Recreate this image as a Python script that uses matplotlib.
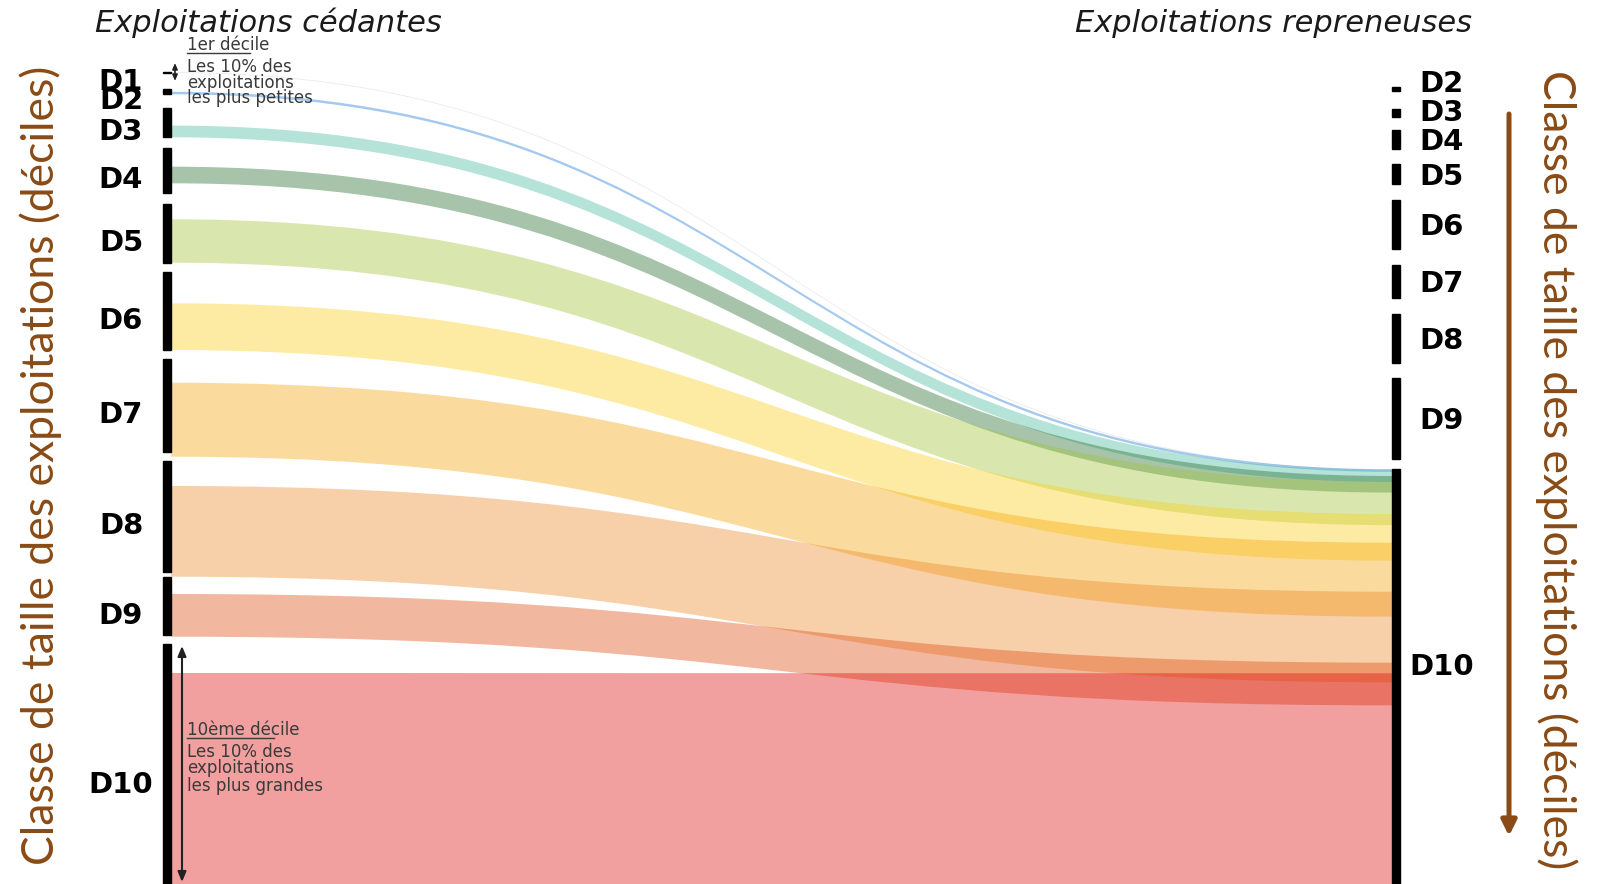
import matplotlib
matplotlib.use("Agg")
import matplotlib.pyplot as plt
from matplotlib.path import Path
from matplotlib.patches import PathPatch, Rectangle

# ---------------- données ----------------
deciles_cedants = ['D1', 'D2', 'D3', 'D4', 'D5', 'D6', 'D7', 'D8', 'D9', 'D10']
taille_cedants = [1.5, 5.3, 29, 44.4, 58.7, 77.7, 92.4, 111, 57.7, 276]
deciles_repreneurs = ['D2', 'D3', 'D4', 'D5', 'D6', 'D7', 'D8', 'D9', 'D10']
taille_repreneurs = [4, 7.4, 18.7, 19.7, 49, 33, 49, 81.6, 460]
# flux de chaque décile cédant vers le décile D10 des repreneurs
flux_vers_D10 = [0.8, 2.5, 11.7, 16.6, 43.4, 46.7, 74, 90.7, 42.7, 247]
# marge entre le bas du flux et le bas du nœud cédant
marge_sous_flux = [0, 0, 0, 9.4, 0, 0, -5, -5, -1.7, 0]
# position d'arrivée de chaque flux à l'intérieur du nœud D10 repreneur
arrivee_dans_D10 = [0, 0, 1, 6.7, 12.4, 44.7, 73.4, 122.4, 193.4, 204]

# ---------------- mise en page ----------------
W, H = 1603, 884
fig = plt.figure(figsize=(W / 100, H / 100), dpi=100)
ax = fig.add_axes([0, 0, 1, 1])
ax.set_xlim(0, W)
ax.set_ylim(H, 0)
ax.axis('off')

couleurs = ['#c8c8c8', '#1a78d8', '#46b99d', '#236b2a', '#a0c539',
            '#facf19', '#f5a70c', '#ed8728', '#de4d11', '#de1111']
alpha = 0.4

x_bar_g, x_bar_d, bar_w = 163, 1392, 8
debut_g, ecarts_g = 71.5, [16, 14, 11, 11.3, 9.6, 9.3, 9, 5.6, 9]
debut_d, ecarts_d = 86.7, [18.6, 13.3, 15.6, 16, 16.3, 16, 14.4, 10]


def empile(debut, tailles, ecarts):
    tops = []
    y = debut
    for i, t in enumerate(tailles):
        tops.append(y)
        if i < len(ecarts):
            y = y + t + ecarts[i]
    return tops


tops_g = empile(debut_g, taille_cedants, ecarts_g)
tops_d = empile(debut_d, taille_repreneurs, ecarts_d)

# flux
x0 = x_bar_g + bar_w
x1 = x_bar_d
xm = (x0 + x1) / 2
top_D10_d = tops_d[deciles_repreneurs.index('D10')]
for i, v in enumerate(flux_vers_D10):
    y0b = tops_g[i] + taille_cedants[i] - marge_sous_flux[i]
    y0t = y0b - v
    y1t = top_D10_d + arrivee_dans_D10[i]
    y1b = y1t + v
    verts = [(x0, y0t), (xm, y0t), (xm, y1t), (x1, y1t),
             (x1, y1b), (xm, y1b), (xm, y0b), (x0, y0b), (x0, y0t)]
    codes = [Path.MOVETO, Path.CURVE4, Path.CURVE4, Path.CURVE4,
             Path.LINETO, Path.CURVE4, Path.CURVE4, Path.CURVE4, Path.CLOSEPOLY]
    ax.add_patch(PathPatch(Path(verts, codes), facecolor=couleurs[i],
                           edgecolor='none', alpha=alpha, zorder=2))

# nœuds
for i, t in enumerate(taille_cedants):
    ax.add_patch(Rectangle((x_bar_g, tops_g[i]), bar_w, t, color='black', zorder=3))
for i, t in enumerate(taille_repreneurs):
    ax.add_patch(Rectangle((x_bar_d, tops_d[i]), bar_w, t, color='black', zorder=3))

lab_font = dict(family='DejaVu Sans', fontsize=21, fontweight='bold', color='black')
for i, lab in enumerate(deciles_cedants):
    bas = tops_g[i] + taille_cedants[i]
    if bas > H:
        yc = (tops_g[i] + bas) / 2
    else:
        yc = (tops_g[i] + bas) / 2 + 7
    ax.text(121, yc + 10.5, lab, ha='center', va='baseline', **lab_font)

# étiquettes de droite : centre visible du nœud, espacement minimal
centres_d = []
for i in range(len(deciles_repreneurs)):
    bas = min(tops_d[i] + taille_repreneurs[i], H)
    centres_d.append((tops_d[i] + bas) / 2 - (12 if bas >= H else 0))
for i in range(len(centres_d) - 2, -1, -1):
    centres_d[i] = min(centres_d[i], centres_d[i + 1] - 29)
for lab, yc in zip(deciles_repreneurs, centres_d):
    ax.text(1442, yc + 10.5, lab, ha='center', va='baseline', **lab_font)

# titres de colonnes
ax.text(95, 23, 'Exploitations cédantes', ha='left', va='center',
        family='DejaVu Sans', style='italic', fontsize=22, color='#1a1a1a')
ax.text(1472, 23, 'Exploitations repreneuses', ha='right', va='center',
        family='DejaVu Sans', style='italic', fontsize=22, color='#1a1a1a')

# titres d'axes
brun = '#8a4b16'
ax.text(41, 465, 'Classe de taille des exploitations (déciles)', rotation=90,
        ha='center', va='center', family='Lato', fontsize=32, color=brun)
ax.text(1556, 470, 'Classe de taille des exploitations (déciles)', rotation=-90,
        ha='center', va='center', family='Lato', fontsize=32, color=brun)
ax.annotate('', xy=(1509, 836), xytext=(1509, 114),
            arrowprops=dict(arrowstyle='-|>,head_length=0.9,head_width=0.45',
                            color=brun, lw=3.6, shrinkA=0, shrinkB=0))

# annotations
gris = '#3a3a3a'
small = dict(family='DejaVu Sans', fontsize=12, color=gris, ha='left', va='center')
t1 = ax.text(187, 45, '1er décile', **small)
for y, s in zip([67.5, 83, 98], ['Les 10% des', 'exploitations', 'les plus petites']):
    ax.text(187, y, s, **small)
t2 = ax.text(187, 730, '10ème décile', **small)
for y, s in zip([752, 768, 786], ['Les 10% des', 'exploitations', 'les plus grandes']):
    ax.text(187, y, s, **small)

ax.annotate('', xy=(175, 63), xytext=(175, 81),
            arrowprops=dict(arrowstyle='<|-|>,head_length=0.35,head_width=0.15',
                            color='#222222', lw=1.2, shrinkA=0, shrinkB=0))
ax.annotate('', xy=(182, 646), xytext=(182, 882),
            arrowprops=dict(arrowstyle='<|-|>,head_length=0.6,head_width=0.25',
                            color='#222222', lw=1.5, shrinkA=0, shrinkB=0))

# soulignements partiels
fig.canvas.draw()
r = fig.canvas.get_renderer()
inv = ax.transData.inverted()
for t, frac in [(t1, 0.76), (t2, 0.77)]:
    bb = t.get_window_extent(r)
    (xa, ya) = inv.transform((bb.x0, bb.y0 + 1))
    (xb, _) = inv.transform((bb.x0 + frac * bb.width, bb.y0))
    ax.plot([xa, xb], [ya, ya], color=gris, lw=1.0)

fig.savefig('out.png', dpi=100)
